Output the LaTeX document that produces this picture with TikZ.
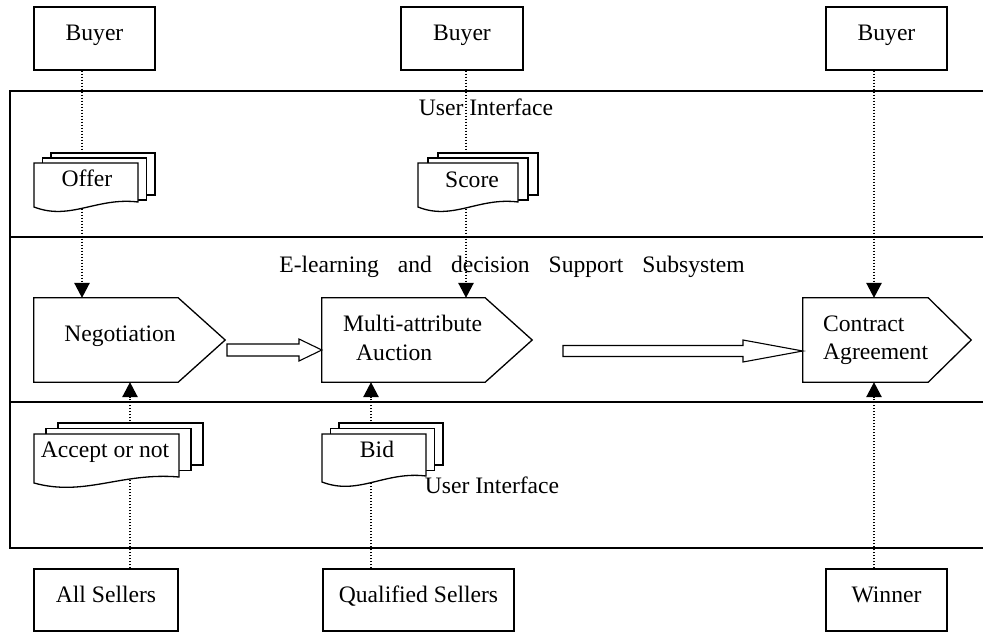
\documentclass[tikz,border=0pt]{standalone}
\usepackage{fontspec}
\setmainfont{Liberation Serif}
\usetikzlibrary{arrows.meta,calc}
% #1 x0, #2 top, #3 width, #4 dx, #5 dy, #6 right height, #7 left height
\newcommand\mydocstack[7]{%
  \draw[docline] (#1+2*#4,#2-2*#5) rectangle ++(#3,42);
  \draw[docline] (#1+#4,#2-#5) rectangle ++(#3,42);
  \draw[docline] (#1,#2) -- ++(#3,0) -- (#1+#3,#2+#6)
     .. controls (#1+0.6*#3,#2+#6-5) and (#1+0.35*#3,#2+#7+14) .. (#1,#2+#7) -- cycle;}
\begin{document}
\begin{tikzpicture}[x=1pt,y=-1pt,
  every node/.style={font=\fontsize{23.6}{28}\selectfont, inner sep=0pt},
  box/.style={draw, line width=1.3pt, minimum height=63, text height=0.7em, text depth=0.22em},
  body/.style={minimum width=#1, minimum height=84},
  pent/.style={draw, line width=1.3pt, fill=white, line join=miter},
  docline/.style={draw, line width=1.3pt, fill=white},
  lane/.style={line width=1.1pt},
  dotl/.style={line width=1.2pt, dash pattern=on 1.2pt off 1.8pt,
               -{Triangle[length=15pt,width=15.5pt]}},
  fat/.style={draw, line width=1.1pt, fill=white, line join=miter}]
\useasboundingbox (0,0) rectangle (983,632);

% lanes
\draw[lane] (983,91) -- (10,91) -- (10,548) -- (983,548);
\draw[lane] (10,237) -- (983,237);
\draw[lane] (10,402) -- (983,402);

% actor boxes
\node[box, minimum width=121] (b1) at (94.5,38.5) {Buyer};
\node[box, minimum width=122] (b2) at (462,38.5) {Buyer};
\node[box, minimum width=121] (b3) at (886.5,38.5) {Buyer};
\node[box, minimum width=144, minimum height=62] (s1) at (106,600) {All Sellers};
\node[box, minimum width=191, minimum height=62] (s2) at (418.5,600) {Qualified Sellers};
\node[box, minimum width=121, minimum height=62] (s3) at (886.5,600) {Winner};

% process bodies (named) and pentagon outlines
\node[body=144] (neg) at (106,340) {};
\node[body=163] (mul) at (403.5,340) {};
\node[body=125] (con) at (865.5,340) {};
\coordinate (lx1) at (82,0);
\coordinate (lx2) at (466,0);
\coordinate (lx3) at (874,0);
\coordinate (ly1) at (130,0);
\coordinate (ly2) at (371,0);

% dotted connectors
\draw[dotl] (b1.south -| lx1) -- (neg.north -| lx1);
\draw[dotl] (b2.south -| lx2) -- (mul.north -| lx2);
\draw[dotl] (b3.south -| lx3) -- (con.north -| lx3);
\draw[dotl] (s1.north -| ly1) -- (neg.south -| ly1);
\draw[dotl] (s2.north -| ly2) -- (mul.south -| ly2);
\draw[dotl] (s3.north -| lx3) -- (con.south -| lx3);

% pentagons
\draw[pent] (neg.north west) -- (neg.north east) -- ($(neg.east)+(47,0)$) -- (neg.south east) -- (neg.south west) -- cycle;
\draw[pent] (mul.north west) -- (mul.north east) -- ($(mul.east)+(47,0)$) -- (mul.south east) -- (mul.south west) -- cycle;
\draw[pent] (con.north west) -- (con.north east) -- ($(con.east)+(43,0)$) -- (con.south east) -- (con.south west) -- cycle;

% document stacks
\mydocstack{34}{163}{104}{8.5}{5}{39}{44}
\mydocstack{418}{163}{100}{10}{5}{39}{44}
\mydocstack{34}{434}{145}{12}{5.5}{43}{49}
\mydocstack{322}{434}{104}{8.5}{5.5}{42}{48}

% fat arrows
\draw[fat] (227,344) -- (299,344) -- (299,339) -- (mul.west |- 0,350) -- (299,361) -- (299,356) -- (227,356) -- cycle;
\draw[fat] (563,345.5) -- (743,345.5) -- (743,340) -- (con.west |- 0,351) -- (743,362) -- (743,356.5) -- (563,356.5) -- cycle;

% texts
\node[anchor=base] (ui1) at (486,115) {User Interface};
\node[anchor=base] (sub) at (512,272) {\spaceskip=19pt E-learning and decision Support Subsystem};
\node[anchor=base] (ui2) at (492,493) {User Interface};
\node[anchor=base] (toff) at (87,186) {Offer};
\node[anchor=base] (tsco) at (472,187) {Score};
\node[anchor=base] (tacc) at (105,457) {Accept or not};
\node[anchor=base] (tbid) at (377,457) {Bid};
\node[anchor=base] (tneg) at (120,341) {Negotiation};
\node[anchor=base west] (tmul1) at (343,331) {Multi-attribute};
\node[anchor=base west] (tmul2) at (356,360) {Auction};
\node[anchor=base west] (tcon1) at (823,331) {Contract};
\node[anchor=base west] (tcon2) at (823,359) {Agreement};
\end{tikzpicture}
\end{document}
